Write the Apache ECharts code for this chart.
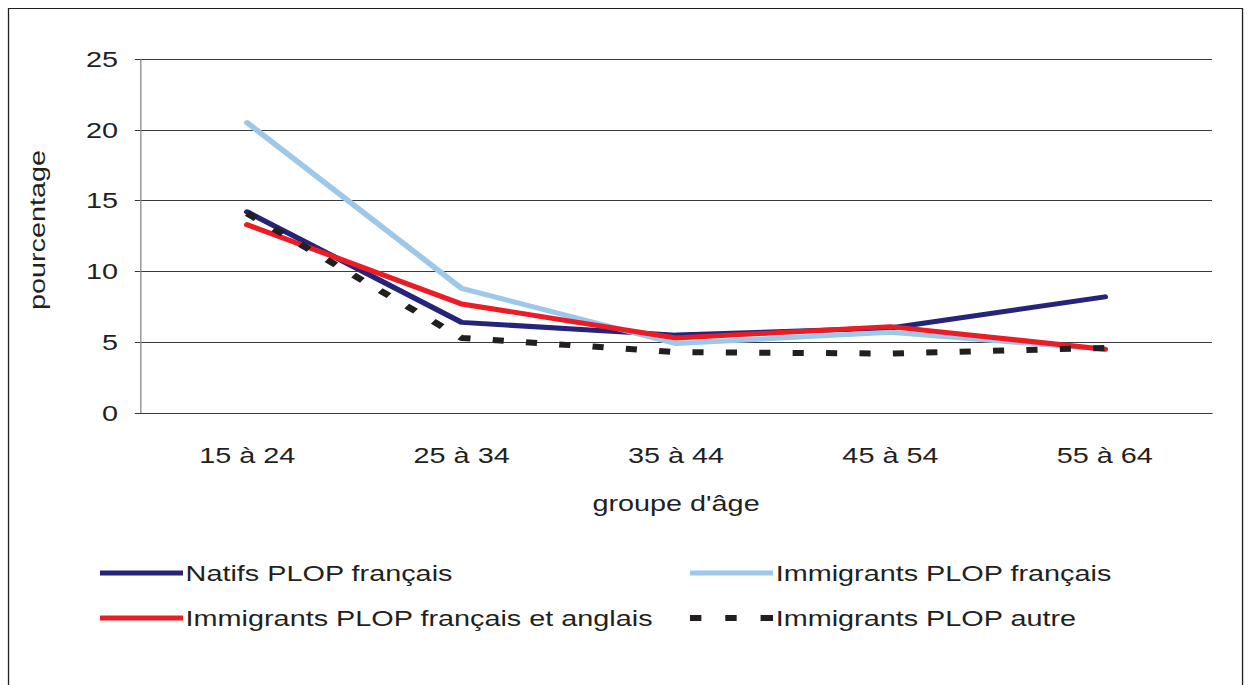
<!DOCTYPE html>
<html>
<head>
<meta charset="utf-8">
<script src="https://cdn.jsdelivr.net/npm/echarts@6/dist/echarts.min.js"></script>
<style>
html,body{margin:0;padding:0;background:#fff;overflow:hidden;}
#wrap{width:1251px;height:685px;overflow:hidden;}
#chart{width:955px;height:685px;transform:scaleX(1.31);transform-origin:0 0;}
</style>
</head>
<body>
<div id="wrap"><div id="chart"></div></div>
<script>
const categories = ['15 à 24', '25 à 34', '35 à 44', '45 à 54', '55 à 64'];
const natifsFrancais = [14.2, 6.4, 5.5, 6.0, 8.2];
const immigrantsFrancais = [20.5, 8.8, 4.9, 5.7, 4.5];
const immigrantsFrancaisAnglais = [13.3, 7.7, 5.3, 6.1, 4.5];
const immigrantsAutre = [14.1, 5.3, 4.3, 4.2, 4.6];
const seriesNames = ['Natifs PLOP français', 'Immigrants PLOP français', 'Immigrants PLOP français et anglais', 'Immigrants PLOP autre'];
const yTicks = [0, 5, 10, 15, 20, 25];
const xAxisTitle = "groupe d'âge";
const yAxisTitle = 'pourcentage';

const S = 1.31;
const FONT = '"Liberation Sans", Arial, sans-serif';
const TXT = '#231f20';
const chart = echarts.init(document.getElementById('chart'), null, { renderer: 'svg' });

const DASH_ICON = 'path://M2,0h11v6h-11z M36,0h11v6h-11z M70,0h12v6h-12z';

function legendAt(name, icon, left, top) {
  return {
    data: [{ name: name, icon: icon }], left: left, top: top, orient: 'horizontal',
    itemWidth: 63.4, itemHeight: icon === 'rect' ? 5 : 6, itemGap: 0, padding: 0,
    symbolKeepAspect: false,
    textStyle: { fontFamily: FONT, fontSize: 22, color: TXT, padding: [0, 0, 0, -3] },
    selectedMode: false
  };
}

const lineSeries = (name, data, color, type, width) => ({
  name: name, type: 'line', data: data, symbol: 'none', showSymbol: false,
  lineStyle: { color: color, width: width, type: type, cap: type === 'solid' ? 'round' : 'butt', join: 'round' },
  itemStyle: { color: color },
  animation: false
});

chart.setOption({
  animation: false,
  backgroundColor: '#fff',
  graphic: [{
    type: 'rect', shape: { x: 6.5, y: 8.5, width: 942, height: 700 },
    style: { fill: 'none', stroke: '#231f20', lineWidth: 1 }, z: -1
  }, {
    type: 'text', x: 37 / S, y: 230, rotation: Math.PI / 2, scaleX: S, scaleY: 1 / S,
    style: { text: yAxisTitle, fontFamily: FONT, fontSize: 22, fill: TXT, align: 'center', verticalAlign: 'middle' }
  }],
  grid: { left: 106.9, right: 29.8, top: 59, bottom: 272, containLabel: false },
  legend: [
    legendAt(seriesNames[0], 'rect', 76.3, 562),
    legendAt(seriesNames[1], 'rect', 526.7, 562),
    legendAt(seriesNames[2], 'rect', 76.3, 607),
    legendAt(seriesNames[3], DASH_ICON, 526.7, 607)
  ],
  xAxis: {
    type: 'category', data: categories, boundaryGap: true,
    name: xAxisTitle, nameLocation: 'middle', nameGap: 79,
    nameTextStyle: { fontFamily: FONT, fontSize: 22, color: TXT },
    axisLine: { show: true, lineStyle: { color: '#3a3a3a', width: 1 } },
    axisTick: { show: false },
    axisLabel: { fontFamily: FONT, fontSize: 22, color: TXT, margin: 31 }
  },
  yAxis: {
    type: 'value', min: yTicks[0], max: yTicks[yTicks.length - 1], interval: 5,
    axisLine: { show: true, lineStyle: { color: '#8a8a8a', width: 1 } },
    axisTick: { show: true, length: 4, lineStyle: { color: '#3a3a3a' } },
    axisLabel: { fontFamily: FONT, fontSize: 22, color: TXT, margin: 16.8 },
    splitLine: { show: true, lineStyle: { color: '#3a3a3a', width: 1 } }
  },
  series: [
    lineSeries(seriesNames[0], natifsFrancais, '#25237a', 'solid', 5),
    lineSeries(seriesNames[1], immigrantsFrancais, '#9dc8ea', 'solid', 5),
    lineSeries(seriesNames[2], immigrantsFrancaisAnglais, '#ec1c24', 'solid', 5),
    lineSeries(seriesNames[3], immigrantsAutre, '#231f20', [8.5, 17], 6)
  ]
});
</script>
</body>
</html>
